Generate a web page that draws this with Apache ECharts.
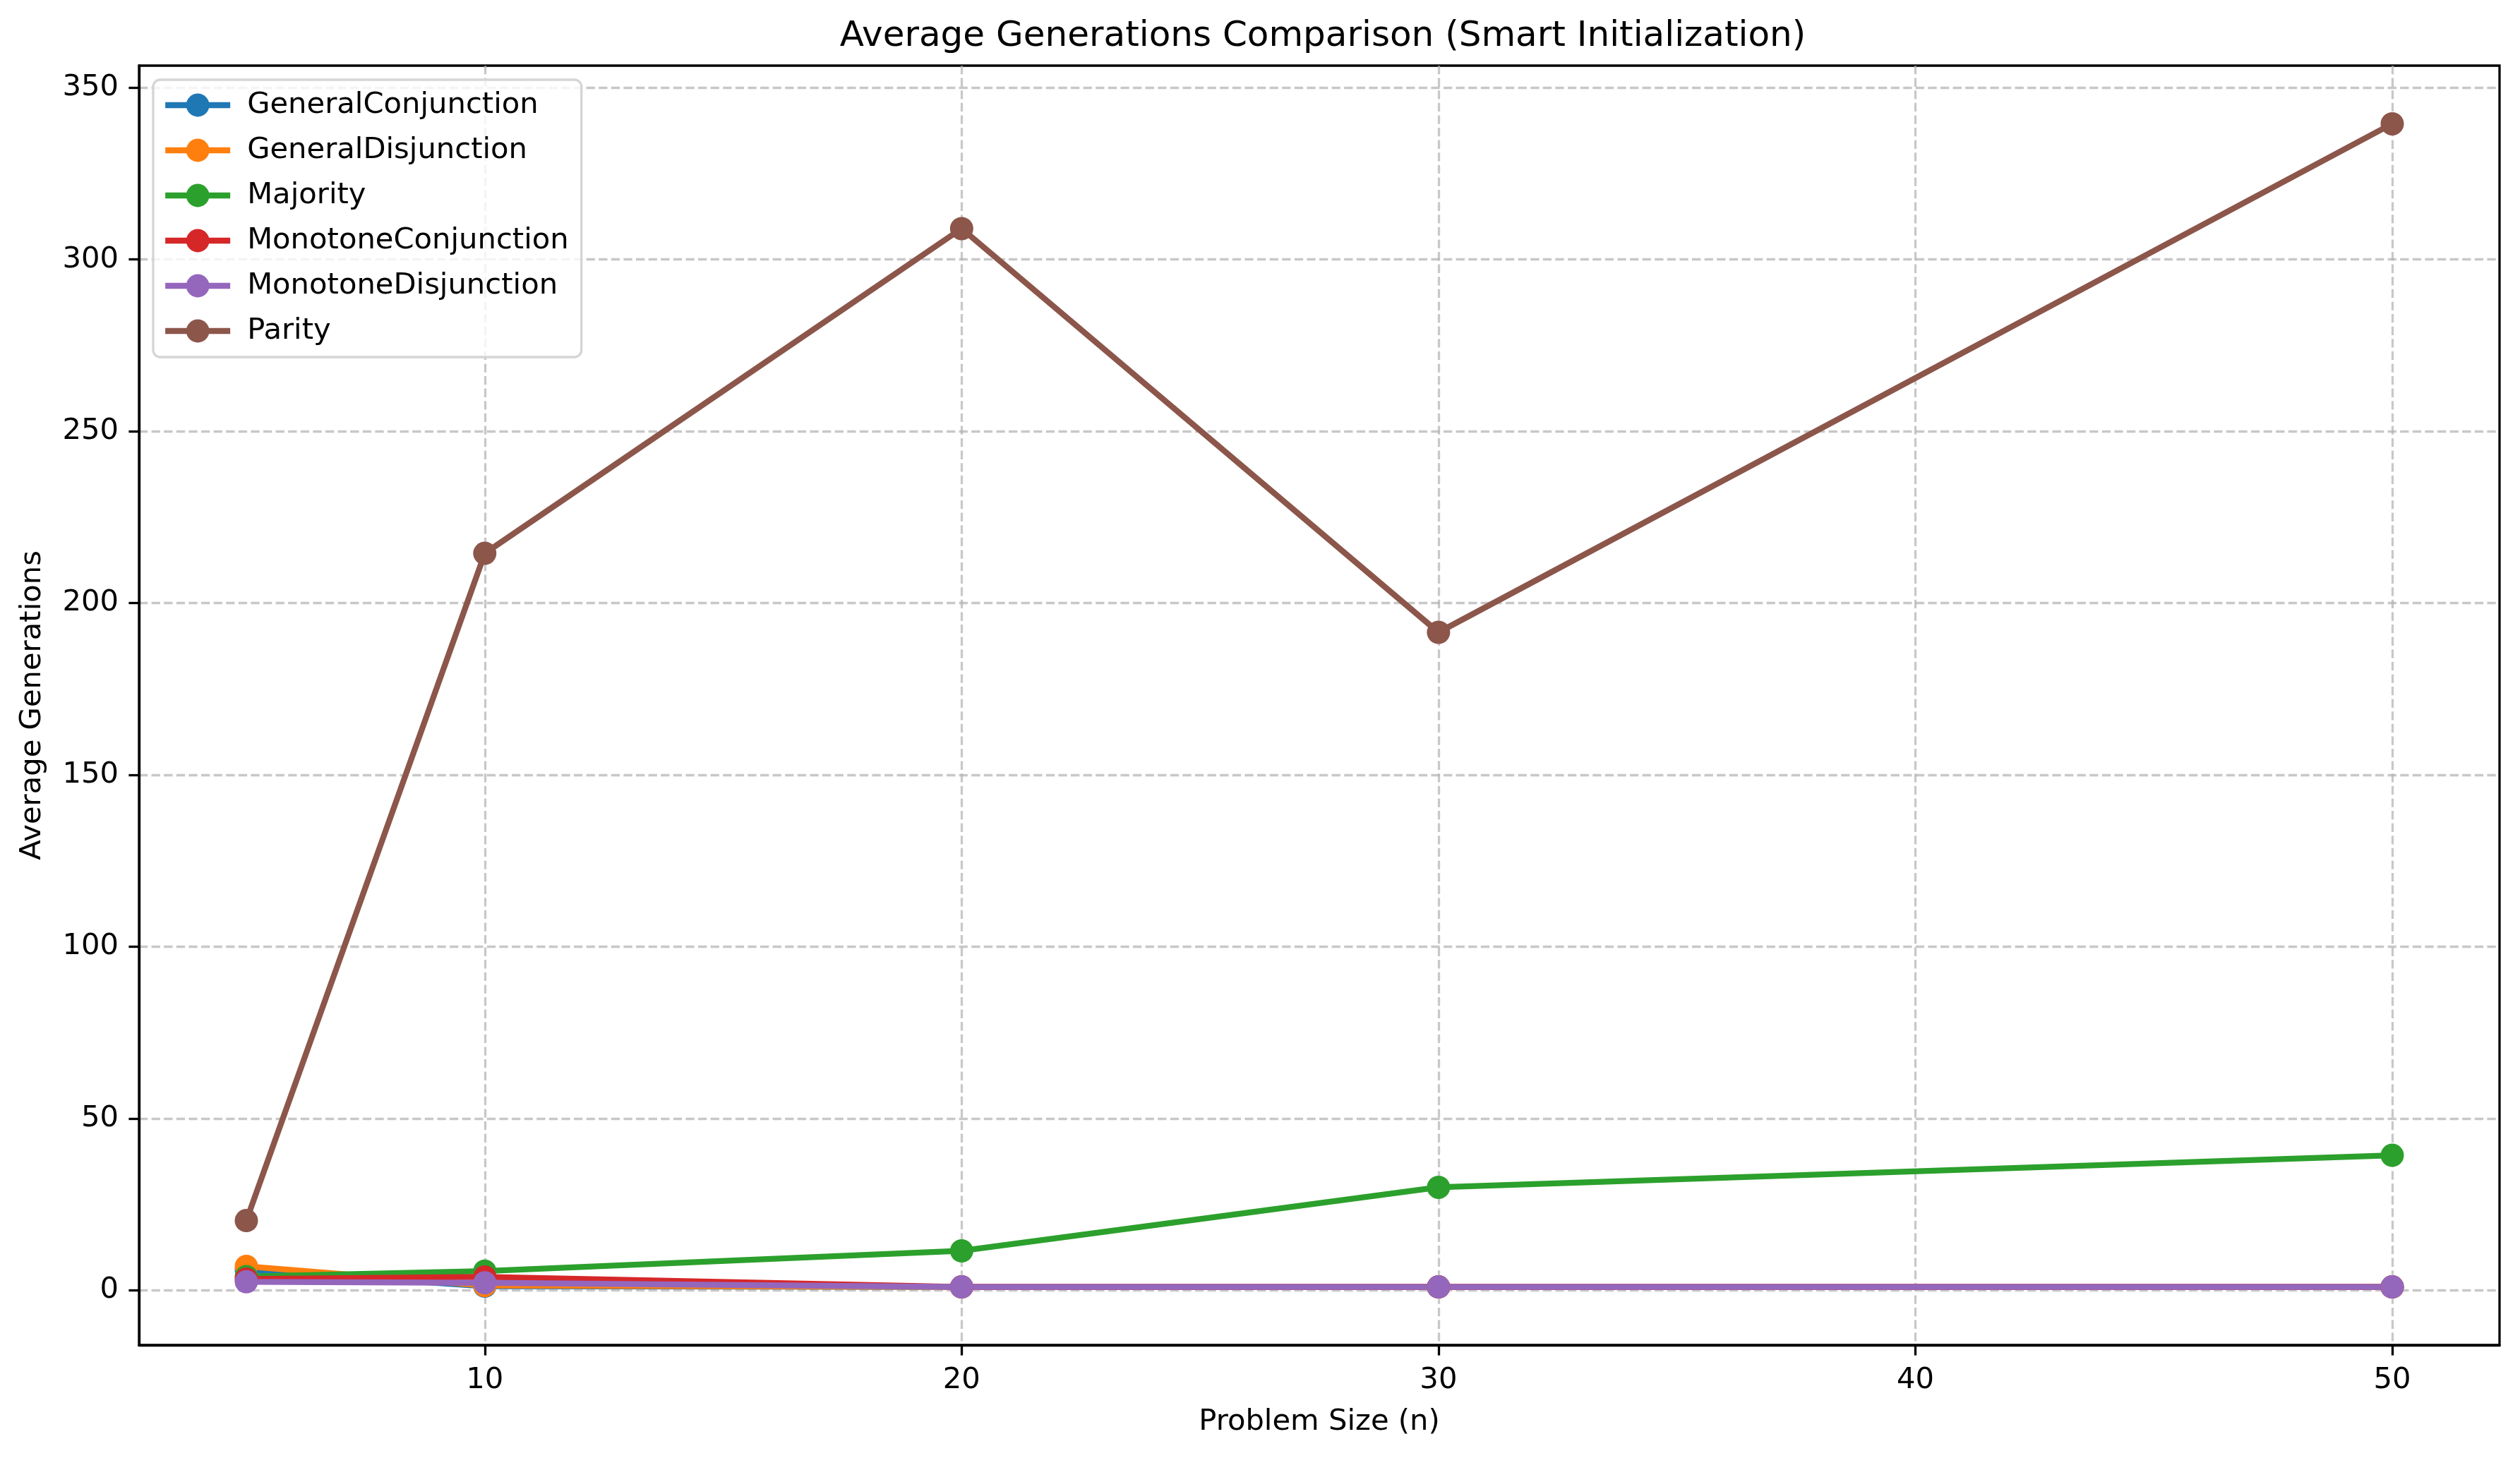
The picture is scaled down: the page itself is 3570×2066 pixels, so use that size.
<!DOCTYPE html>
<html>
<head>
<meta charset="utf-8">
<script src="https://cdn.jsdelivr.net/npm/echarts@6/dist/echarts.min.js"></script>
<style>
html,body{margin:0;padding:0;background:#fff;}
#chart{width:3570px;height:2066px;}
</style>
</head>
<body>
<div id="chart"></div>
<script>
const problemSizes = [5, 10, 20, 30, 50];
const seriesNames = ["GeneralConjunction", "GeneralDisjunction", "Majority", "MonotoneConjunction", "MonotoneDisjunction", "Parity"];
const generalConjunction = [6.0, 1.2, 1.0, 1.0, 1.0];
const generalDisjunction = [7.0, 1.4, 1.0, 1.0, 1.0];
const majority = [4.0, 5.6, 11.5, 30.0, 39.3];
const monotoneConjunction = [3.3, 3.9, 1.0, 1.0, 1.0];
const monotoneDisjunction = [2.5, 2.2, 1.0, 1.0, 1.0];
const parity = [20.3, 214.5, 309.0, 191.5, 339.5];
const xTicks = [10, 20, 30, 40, 50];
const yTicks = [0, 50, 100, 150, 200, 250, 300, 350];
const colors = ["#1f77b4", "#ff7f0e", "#2ca02c", "#d62728", "#9467bd", "#8c564b"];

const allValues = [generalConjunction, generalDisjunction, majority, monotoneConjunction, monotoneDisjunction, parity];
const FONT = "DejaVu Sans";

const xmin = Math.min(...problemSizes), xmax = Math.max(...problemSizes);
const xpad = (xmax - xmin) * 0.05;
const flat = allValues.flat();
const ymin = Math.min(...flat), ymax = Math.max(...flat);
const ypad = (ymax - ymin) * 0.05;

const chart = echarts.init(document.getElementById('chart'), null, {renderer: 'canvas'});

const series = seriesNames.map((name, i) => ({
  name: name,
  type: 'line',
  data: problemSizes.map((x, j) => [x, allValues[i][j]]),
  symbol: 'circle',
  symbolSize: 33,
  showSymbol: true,
  lineStyle: {width: 8.3, color: colors[i]},
  itemStyle: {color: colors[i]},
  emphasis: {disabled: true},
  animation: false
}));

const axisCommon = {
  axisLine: {show: true, onZero: false, lineStyle: {color: '#000', width: 3.3}},
  axisTick: {show: true, inside: false, length: 14.6, lineStyle: {color: '#000', width: 3.3}},
  splitLine: {show: true, lineStyle: {color: '#b0b0b0', opacity: 0.7, width: 3.3, type: [12.3, 5.3]}},
  nameTextStyle: {fontFamily: FONT, fontSize: 41.7, color: '#000'}
};

chart.setOption({
  backgroundColor: '#fff',
  animation: false,
  title: {
    text: 'Average Generations Comparison (Smart Initialization)',
    left: 1869, top: 22, textAlign: 'center',
    textStyle: {fontFamily: FONT, fontSize: 50, fontWeight: 'normal', color: '#000'}
  },
  grid: {
    left: 197, right: 29, top: 93, bottom: 160,
    show: true, borderColor: '#000', borderWidth: 3.3, backgroundColor: 'transparent'
  },
  legend: {
    orient: 'vertical',
    left: 217, top: 113,
    data: seriesNames,
    itemWidth: 92, itemHeight: 41, itemGap: 22,
    padding: [15, 18, 16, 13],
    lineStyle: {width: 8.3},
    backgroundColor: 'rgba(255,255,255,0.8)',
    borderColor: '#d5d5d5', borderWidth: 3.3, borderRadius: 10,
    textStyle: {fontFamily: FONT, fontSize: 41.7, color: '#000', padding: [0, 0, 0, 19]}
  },
  xAxis: Object.assign({}, axisCommon, {
    type: 'value',
    min: xmin - xpad, max: xmax + xpad,
    name: 'Problem Size (n)', nameLocation: 'middle', nameGap: 88,
    axisTick: Object.assign({}, axisCommon.axisTick, {customValues: xTicks}),
    axisLabel: {customValues: xTicks, fontFamily: FONT, fontSize: 41.7, color: '#000', margin: 29}
  }),
  yAxis: Object.assign({}, axisCommon, {
    type: 'value',
    min: ymin - ypad, max: ymax + ypad,
    name: 'Average Generations', nameLocation: 'middle', nameGap: 130, nameRotate: 90,
    axisTick: Object.assign({}, axisCommon.axisTick, {customValues: yTicks}),
    axisLabel: {customValues: yTicks, fontFamily: FONT, fontSize: 41.7, color: '#000', margin: 29}
  }),
  series: series
});
</script>
</body>
</html>
